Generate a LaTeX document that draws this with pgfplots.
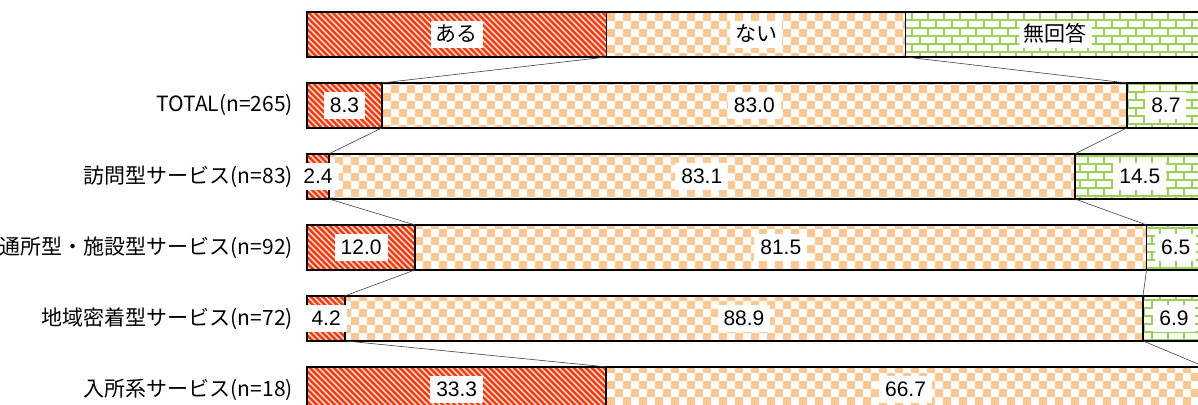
\documentclass[border=0pt]{standalone}
\usepackage{fontspec}
\setmainfont{Noto Sans CJK JP}
\newfontfamily\numfont{Liberation Sans}
\usepackage{pgfplots}
\pgfplotsset{compat=1.18}
\usetikzlibrary{patterns}

\definecolor{aruRed}{RGB}{255,55,10}
\definecolor{naiOrange}{RGB}{255,200,145}
\definecolor{nrGreen}{RGB}{155,210,85}

% diagonal red stripes on white
\pgfdeclarepatterninherentlycolored{stripesRed}
{\pgfpointorigin}{\pgfqpoint{6pt}{6pt}}{\pgfqpoint{6pt}{6pt}}
{
  \pgfsetfillcolor{white}
  \pgfpathrectangle{\pgfpointorigin}{\pgfqpoint{6pt}{6pt}}
  \pgfusepath{fill}
  \pgfsetstrokecolor{aruRed}
  \pgfsetlinewidth{2.5pt}
  \pgfpathmoveto{\pgfqpoint{-1pt}{7pt}}\pgfpathlineto{\pgfqpoint{7pt}{-1pt}}
  \pgfpathmoveto{\pgfqpoint{-2pt}{2pt}}\pgfpathlineto{\pgfqpoint{2pt}{-2pt}}
  \pgfpathmoveto{\pgfqpoint{4pt}{8pt}}\pgfpathlineto{\pgfqpoint{8pt}{4pt}}
  \pgfusepath{stroke}
}
% orange checkerboard
\pgfdeclarepatterninherentlycolored{checkOrange}
{\pgfpointorigin}{\pgfqpoint{16pt}{16pt}}{\pgfqpoint{16pt}{16pt}}
{
  \pgfsetfillcolor{white}
  \pgfpathrectangle{\pgfpointorigin}{\pgfqpoint{16pt}{16pt}}
  \pgfusepath{fill}
  \pgfsetfillcolor{naiOrange}
  \pgfpathrectangle{\pgfpointorigin}{\pgfqpoint{8pt}{8pt}}
  \pgfpathrectangle{\pgfqpoint{8pt}{8pt}}{\pgfqpoint{8pt}{8pt}}
  \pgfusepath{fill}
}
% green brick wall
\pgfdeclarepatterninherentlycolored{brickGreen}
{\pgfpointorigin}{\pgfqpoint{16pt}{16pt}}{\pgfqpoint{16pt}{16pt}}
{
  \pgfsetfillcolor{white}
  \pgfpathrectangle{\pgfpointorigin}{\pgfqpoint{16pt}{16pt}}
  \pgfusepath{fill}
  \pgfsetstrokecolor{nrGreen}
  \pgfsetlinewidth{2pt}
  \pgfpathmoveto{\pgfqpoint{0pt}{1pt}}\pgfpathlineto{\pgfqpoint{16pt}{1pt}}
  \pgfpathmoveto{\pgfqpoint{0pt}{9pt}}\pgfpathlineto{\pgfqpoint{16pt}{9pt}}
  \pgfpathmoveto{\pgfqpoint{1pt}{1pt}}\pgfpathlineto{\pgfqpoint{1pt}{9pt}}
  \pgfpathmoveto{\pgfqpoint{9pt}{9pt}}\pgfpathlineto{\pgfqpoint{9pt}{17pt}}
  \pgfusepath{stroke}
}

\pgfplotsset{
  rowaxis/.style={
    scale only axis, width=893.7pt, height=405pt,
    xmin=-0.3, xmax=99.22, ymin=-0.486, ymax=5.218, y dir=reverse,
    axis line style={draw=none}, major tick length=0pt,
    xtick=\empty,
    ytick={1,2,3,4,5},
    yticklabel style={font=\fontsize{21pt}{25pt}\selectfont, inner sep=0pt, xshift=-11.5pt},
  },
}

\begin{document}
\begin{tikzpicture}
% room for the row captions left of the bars
\path (-304.3pt,0pt);

\begin{axis}[rowaxis,
  yticklabels={TOTAL(n=265), 訪問型サービス(n=83), 通所型・施設型サービス(n=92),
    地域密着型サービス(n=72), 入所系サービス(n=18)},
  xbar stacked, bar width=45pt,
]
% ある
\addplot[draw=black, line width=1.6pt, pattern=stripesRed] coordinates
  {(33.333,0) (8.3,1) (2.4,2) (12.0,3) (4.2,4) (33.3,5)};
% ない
\addplot[draw=black, line width=1.6pt, pattern=checkOrange] coordinates
  {(33.333,0) (83.0,1) (83.1,2) (81.5,3) (88.9,4) (66.7,5)};
% 無回答
\addplot[draw=black, line width=1.6pt, pattern=brickGreen] coordinates
  {(33.334,0) (8.7,1) (14.5,2) (6.5,3) (6.9,4) (0.0,5)};
\end{axis}

\begin{axis}[rowaxis, yticklabels={,,,,}]
% series lines joining the segment boundaries of neighbouring bars
\addplot[black!75, line width=0.6pt, mark=none] coordinates {(33.333,0.317) (8.3,0.683)};
\addplot[black!75, line width=0.6pt, mark=none] coordinates {(66.667,0.317) (91.3,0.683)};
\addplot[black!75, line width=0.6pt, mark=none] coordinates {(8.3,1.317) (2.4,1.683)};
\addplot[black!75, line width=0.6pt, mark=none] coordinates {(91.3,1.317) (85.5,1.683)};
\addplot[black!75, line width=0.6pt, mark=none] coordinates {(2.4,2.317) (12.0,2.683)};
\addplot[black!75, line width=0.6pt, mark=none] coordinates {(85.5,2.317) (93.5,2.683)};
\addplot[black!75, line width=0.6pt, mark=none] coordinates {(12.0,3.317) (4.2,3.683)};
\addplot[black!75, line width=0.6pt, mark=none] coordinates {(93.5,3.317) (93.1,3.683)};
\addplot[black!75, line width=0.6pt, mark=none] coordinates {(4.2,4.317) (33.3,4.683)};
\addplot[black!75, line width=0.6pt, mark=none] coordinates {(93.1,4.317) (100,4.683)};
% legend row captions
\addplot[draw=none, mark=none, nodes near coords, point meta=explicit symbolic,
  every node near coord/.append style={anchor=center, fill=white, inner xsep=5pt,
    inner ysep=5pt, text height=15pt, text depth=1.5pt, text=black,
    font=\fontsize{21pt}{25pt}\selectfont}]
  coordinates {(16.667,0) [ある] (50,0) [ない] (83.333,0) [無回答]};
% value labels
\addplot[draw=none, mark=none, nodes near coords, point meta=explicit symbolic,
  every node near coord/.append style={anchor=center, fill=white, inner xsep=6pt,
    inner ysep=5pt, text height=15pt, text depth=1.5pt, text=black,
    font=\numfont\fontsize{21pt}{25pt}\selectfont}]
  coordinates {
  (4.15,1) [8.3] (49.8,1) [83.0] (95.65,1) [8.7]
  (1.2,2) [2.4] (43.95,2) [83.1] (92.75,2) [14.5]
  (6.0,3) [12.0] (52.75,3) [81.5] (96.75,3) [6.5]
  (2.1,4) [4.2] (48.65,4) [88.9] (96.55,4) [6.9]
  (16.65,5) [33.3] (66.65,5) [66.7]
};
\end{axis}
\end{tikzpicture}
\end{document}
